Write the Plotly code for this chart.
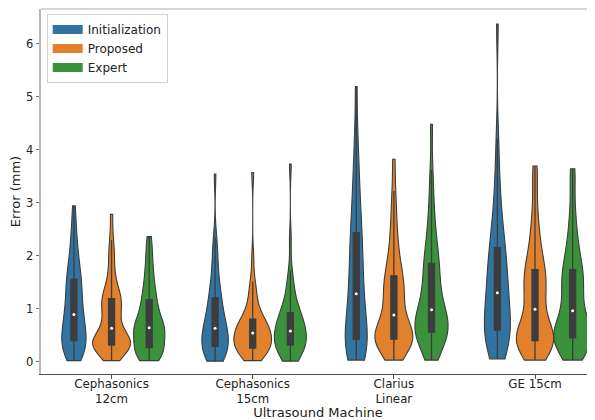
import numpy as np
import plotly.graph_objects as go

machines = ["Cephasonics<br>12cm", "Cephasonics<br>15cm", "Clarius<br>Linear", "GE 15cm"]
methods = ["Initialization", "Proposed", "Expert"]
colors = ["#3274a1", "#e1812c", "#3a923a"]

# Error (mm) samples per machine, per method
init_ceph12 = [0.02, 0.07, 0.12, 0.17, 0.21, 0.25, 0.29, 0.32, 0.35, 0.38,
               0.42, 0.47, 0.52, 0.57, 0.62, 0.67, 0.72, 0.77, 0.82, 0.87,
               0.91, 0.98, 1.05, 1.12, 1.19, 1.26, 1.33, 1.40, 1.47, 1.53,
               1.58, 1.66, 1.75, 1.85, 1.96, 2.08, 2.22, 2.40, 2.62, 2.94]
prop_ceph12 = [0.02, 0.18, 0.24, 0.27, 0.28, 0.29, 0.30, 0.30, 0.31, 0.31,
               0.32, 0.33, 0.34, 0.35, 0.37, 0.39, 0.41, 0.44, 0.49, 0.58,
               0.68, 0.73, 0.79, 0.86, 0.94, 1.01, 1.07, 1.11, 1.14, 1.17,
               1.21, 1.26, 1.33, 1.42, 1.55, 1.72, 1.92, 2.10, 2.30, 2.78]
exp_ceph12 = [0.02, 0.06, 0.10, 0.13, 0.16, 0.18, 0.20, 0.21, 0.22, 0.23,
              0.30, 0.38, 0.44, 0.49, 0.53, 0.56, 0.58, 0.60, 0.62, 0.63,
              0.65, 0.68, 0.72, 0.77, 0.83, 0.89, 0.95, 1.01, 1.08, 1.14,
              1.20, 1.28, 1.37, 1.47, 1.58, 1.70, 1.84, 2.00, 2.18, 2.36]

init_ceph15 = [0.01, 0.04, 0.07, 0.10, 0.13, 0.16, 0.19, 0.22, 0.25, 0.27,
               0.31, 0.35, 0.39, 0.43, 0.47, 0.51, 0.54, 0.57, 0.59, 0.61,
               0.65, 0.70, 0.75, 0.80, 0.86, 0.92, 0.98, 1.04, 1.10, 1.17,
               1.24, 1.32, 1.41, 1.52, 1.65, 1.80, 1.98, 2.15, 2.36, 3.54]
prop_ceph15 = [0.02, 0.10, 0.16, 0.19, 0.21, 0.22, 0.22, 0.23, 0.23, 0.24,
               0.27, 0.31, 0.35, 0.38, 0.41, 0.43, 0.45, 0.47, 0.49, 0.52,
               0.56, 0.58, 0.60, 0.62, 0.64, 0.66, 0.69, 0.72, 0.76, 0.79,
               0.82, 0.88, 0.95, 1.04, 1.15, 1.28, 1.40, 1.51, 1.95, 3.57]
exp_ceph15 = [0.01, 0.05, 0.09, 0.13, 0.17, 0.20, 0.23, 0.26, 0.28, 0.30,
              0.33, 0.36, 0.39, 0.42, 0.45, 0.48, 0.51, 0.53, 0.55, 0.57,
              0.59, 0.63, 0.67, 0.71, 0.75, 0.79, 0.83, 0.86, 0.88, 0.90,
              0.95, 1.02, 1.10, 1.19, 1.29, 1.40, 1.54, 1.72, 2.30, 3.73]

init_clarius = [0.03, 0.07, 0.11, 0.15, 0.19, 0.23, 0.27, 0.31, 0.35, 0.38,
                0.46, 0.54, 0.62, 0.70, 0.78, 0.86, 0.95, 1.04, 1.13, 1.23,
                1.33, 1.44, 1.55, 1.66, 1.77, 1.89, 2.01, 2.13, 2.25, 2.37,
                2.50, 2.64, 2.80, 2.98, 3.18, 3.40, 3.65, 3.95, 4.35, 5.19]
prop_clarius = [0.03, 0.18, 0.27, 0.33, 0.36, 0.38, 0.39, 0.40, 0.41, 0.42,
                0.43, 0.45, 0.47, 0.49, 0.52, 0.55, 0.59, 0.64, 0.71, 0.82,
                0.94, 1.02, 1.10, 1.18, 1.25, 1.32, 1.39, 1.46, 1.52, 1.58,
                1.66, 1.76, 1.88, 2.02, 2.18, 2.38, 2.60, 2.90, 3.22, 3.82]
exp_clarius = [0.03, 0.15, 0.25, 0.33, 0.40, 0.45, 0.49, 0.51, 0.53, 0.54,
               0.58, 0.62, 0.66, 0.70, 0.74, 0.78, 0.82, 0.86, 0.91, 0.96,
               1.00, 1.08, 1.17, 1.26, 1.36, 1.46, 1.56, 1.66, 1.75, 1.81,
               1.90, 2.00, 2.12, 2.26, 2.42, 2.62, 2.86, 3.18, 3.62, 4.48]

init_ge = [0.05, 0.12, 0.19, 0.26, 0.32, 0.38, 0.44, 0.49, 0.53, 0.57,
           0.62, 0.68, 0.74, 0.81, 0.88, 0.95, 1.03, 1.11, 1.19, 1.27,
           1.33, 1.41, 1.49, 1.57, 1.66, 1.75, 1.84, 1.93, 2.02, 2.10,
           2.20, 2.32, 2.46, 2.62, 2.80, 3.02, 3.30, 3.68, 4.21, 6.37]
prop_ge = [0.03, 0.12, 0.20, 0.26, 0.30, 0.33, 0.35, 0.37, 0.38, 0.39,
           0.41, 0.44, 0.47, 0.50, 0.54, 0.58, 0.63, 0.70, 0.80, 0.93,
           1.05, 1.13, 1.21, 1.29, 1.37, 1.45, 1.52, 1.59, 1.65, 1.69,
           1.78, 1.88, 1.99, 2.12, 2.27, 2.45, 2.68, 3.00, 3.46, 3.69]
exp_ge = [0.03, 0.12, 0.20, 0.27, 0.32, 0.36, 0.39, 0.41, 0.43, 0.44,
          0.46, 0.49, 0.52, 0.55, 0.58, 0.62, 0.67, 0.73, 0.81, 0.91,
          1.01, 1.10, 1.19, 1.28, 1.36, 1.44, 1.52, 1.59, 1.65, 1.69,
          1.78, 1.88, 1.99, 2.12, 2.27, 2.45, 2.68, 2.98, 3.46, 3.64]

data = {
    "Initialization": [init_ceph12, init_ceph15, init_clarius, init_ge],
    "Proposed": [prop_ceph12, prop_ceph15, prop_clarius, prop_ge],
    "Expert": [exp_ceph12, exp_ceph15, exp_clarius, exp_ge],
}

GROUP_W = 0.8
BW_ADJUST = 0.7
hue_w = GROUP_W / len(methods)
FONT = "DejaVu Sans"
DARK = "#3d3d3d"

fig = go.Figure()
for h, (name, col) in enumerate(zip(methods, colors)):
    offset = (h - (len(methods) - 1) / 2) * hue_w
    mx, my = [], []
    for g, vals in enumerate(data[name]):
        arr = np.asarray(vals, dtype=float)
        bw = BW_ADJUST * arr.std(ddof=1) * len(arr) ** (-0.2)  # Scott's rule
        pos = g + offset
        fig.add_trace(go.Violin(
            x=[pos] * len(arr), y=arr, name=name, legendgroup=name,
            showlegend=False,
            spanmode="hard", points=False, bandwidth=bw,
            scalegroup=f"machine{g}", scalemode="width",
            fillcolor=col, opacity=1,
            line=dict(color=DARK, width=1.1),
            box=dict(visible=True, width=0.16, fillcolor=DARK,
                     line=dict(color=DARK, width=1.3)),
            meanline=dict(visible=False),
            hoverinfo="skip",
        ))
        mx.append(pos)
        my.append(float(np.median(arr)))
    fig.add_trace(go.Scatter(
        x=mx, y=my, mode="markers", showlegend=False, legendgroup=name,
        marker=dict(color="white", size=3, line=dict(width=0)),
        hoverinfo="skip",
    ))
    # legend entry: wide colour patch like the reference
    fig.add_trace(go.Scatter(
        x=[None], y=[None], mode="lines", name=name, legendgroup=name,
        showlegend=True, legendrank=h,
        line=dict(color=col, width=9),
    ))

# the page body has an 8px margin: size the figure to fill the 595x420 window
fig.update_layout(
    width=587, height=412,
    margin=dict(l=33, r=0, t=1, b=46),
    paper_bgcolor="white", plot_bgcolor="white",
    violinmode="overlay", violingap=0, violingroupgap=0,
    font=dict(family=FONT, size=11.5, color="#222222"),
    showlegend=True,
    legend=dict(x=0.0103, y=0.986, xanchor="left", yanchor="top",
                bgcolor="white", bordercolor="#d0d0d0", borderwidth=1,
                font=dict(family=FONT, size=12, color="#222222"),
                tracegroupgap=0, itemwidth=30),
    xaxis=dict(range=[-0.5, 3.425], tickmode="array", tickvals=[0, 1, 2, 3],
               ticktext=machines, showgrid=False, zeroline=False,
               showline=True, linecolor="#505050", linewidth=1,
               ticks="outside", ticklen=3.5, tickcolor="#505050",
               tickfont=dict(family=FONT, size=11.8), ticklabelstandoff=-5,
               title=dict(text="Ultrasound Machine",
                          font=dict(family=FONT, size=13, color="#222222"), standoff=0)),
    yaxis=dict(range=[-0.232, 6.655], tickmode="array", tickvals=[0, 1, 2, 3, 4, 5, 6],
               showgrid=False, zeroline=False,
               showline=True, linecolor="#b8b8b8", linewidth=1.5,
               ticks="outside", ticklen=3.5, tickcolor="#707070",
               tickfont=dict(family=FONT, size=11.5),
               title=dict(text="Error (mm)",
                          font=dict(family=FONT, size=13, color="#222222"), standoff=4)),
    shapes=[dict(type="line", xref="paper", yref="paper", x0=0, x1=1, y0=1, y1=1,
                 line=dict(color="#c8c8c8", width=1.5))],
)

fig.write_html("out.html")
